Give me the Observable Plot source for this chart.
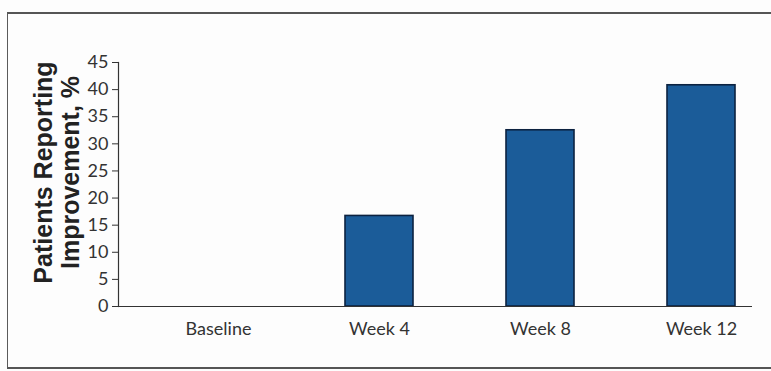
<!DOCTYPE html>
<html>
<head>
<meta charset="utf-8">
<script src="https://cdn.jsdelivr.net/npm/d3@7"></script>
<script src="https://cdn.jsdelivr.net/npm/@observablehq/plot@0.6"></script>
<style>
  html, body { margin: 0; padding: 0; background: #fdfdfd; }
  #wrap { position: relative; width: 771px; height: 371px; overflow: hidden; }
  #wrap svg { position: absolute; left: 0; top: 0; background: transparent; }
  #box {
    position: absolute; left: 7px; top: 12px; width: 775px; height: 353px;
    border: 1px solid #5a5a5a; border-top: 2px solid #555; border-bottom: 2px solid #555;
    pointer-events: none;
  }
</style>
</head>
<body>
<div id="wrap"><div id="box"></div></div>
<script>
// Share of patients reporting improvement at each visit
const visits = ["Baseline", "Week 4", "Week 8", "Week 12"];
const improvement = [0, 16.7, 32.5, 40.8];
const yTicks = [0, 5, 10, 15, 20, 25, 30, 35, 40, 45];
const yTitle = "Patients Reporting\nImprovement, %";

const rows = visits.map((visit, i) => ({visit, value: improvement[i]}));

const chart = Plot.plot({
  width: 771,
  height: 371,
  marginLeft: 118,
  marginRight: 19,
  marginTop: 62,
  marginBottom: 65,
  style: {background: "transparent", fontFamily: "Lato, 'Liberation Sans', sans-serif", color: "#333"},
  x: {domain: visits, paddingInner: 0.58, paddingOuter: 0.247, align: 0.79, label: null},
  y: {domain: [0, 45], label: null},
  marks: [
    Plot.barY(rows, {
      filter: d => d.value > 0,
      x: "visit", y: "value",
      fill: "#1b5c99", stroke: "#0c2240", strokeWidth: 1.6
    }),
    Plot.frame({anchor: "left", stroke: "#333", strokeWidth: 1.2}),
    Plot.ruleY([0], {stroke: "#333", strokeWidth: 1.2}),
    Plot.axisY({ticks: yTicks, tickSize: 6, tickPadding: 4, fontSize: 18, label: null, stroke: "#333"}),
    Plot.axisX({tickSize: 0, tickPadding: 16, fontSize: 18, label: null}),
    Plot.text([yTitle], {
      frameAnchor: "left", textAnchor: "middle", lineAnchor: "middle",
      dx: -62, dy: -12, rotate: -90,
      fontSize: 25, fontWeight: "bold", lineHeight: 1.08,
      fontFamily: "'Liberation Sans', Arial, sans-serif", fill: "#222"
    })
  ]
});

document.getElementById("wrap").prepend(chart);
</script>
</body>
</html>
